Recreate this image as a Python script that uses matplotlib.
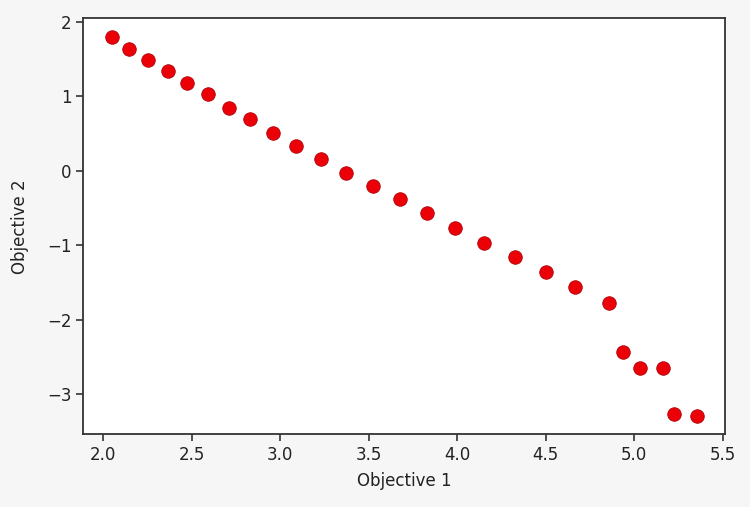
'''
Pareto front: Objective 1 vs Objective 2
'''

import numpy as np
import matplotlib.pyplot as plt

# ═══ Data ═══════════════════════════════════════════════════════════════

obj1 = [2.051, 2.147, 2.256, 2.365, 2.473, 2.593, 2.712, 2.831, 2.960,
        3.092, 3.230, 3.374, 3.525, 3.678, 3.829, 3.990, 4.154, 4.328,
        4.501, 4.668, 4.855, 4.936, 5.034, 5.160, 5.224, 5.356]

obj2 = [1.799, 1.638, 1.486, 1.334, 1.181, 1.026, 0.846, 0.694, 0.510,
        0.332, 0.153, -0.027, -0.205, -0.384, -0.564, -0.773, -0.975, -1.158,
        -1.364, -1.565, -1.772, -2.438, -2.644, -2.644, -3.262, -3.289]

# ═══ Figure ═════════════════════════════════════════════════════════════

plt.rcParams['font.family'] = 'DejaVu Sans'

fig = plt.figure(figsize=(7.5, 5.07), dpi=100, facecolor='#f6f6f6')
ax = fig.add_axes([0.1112, 0.1434, 0.8555, 0.8205])
ax.set_facecolor('white')

# ─── Plot
ax.scatter(obj1, obj2, s=95, c='#ec0008', edgecolors='#b00008', linewidths=0.6, zorder=3)

# ─── Plot settings
ax.set_xlabel('Objective 1', fontsize=12, color='#222222', labelpad=6)
ax.set_ylabel('Objective 2', fontsize=12, color='#222222', labelpad=13)

ax.set_xticks(np.arange(2.0, 5.51, 0.5))
ax.set_yticks(np.arange(-3, 3, 1))
ax.set_xlim(1.889, 5.513)
ax.set_ylim(-3.537, 2.046)

ax.tick_params(labelsize=12, length=5, width=1.1, colors='#222222')
for s in ax.spines.values():
  s.set_linewidth(1.3)
  s.set_color('#333333')

fig.savefig('out.png', dpi=100, facecolor=fig.get_facecolor())
